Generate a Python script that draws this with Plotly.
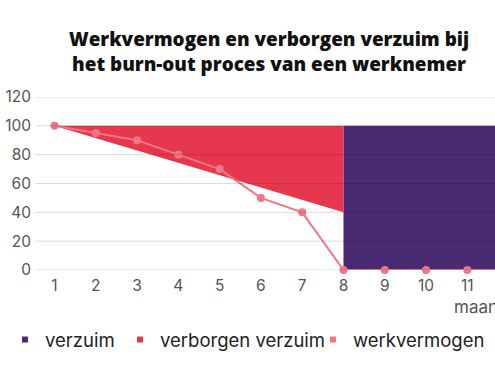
import plotly.graph_objects as go

# ---- data ----
months = [1, 2, 3, 4, 5, 6, 7, 8, 9, 10, 11, 12]
werkvermogen = [100, 95, 90, 80, 70, 50, 40, 0, 0, 0, 0, 0]

verborgen_x = [1, 8]
verborgen_bottom = [100, 40]
verborgen_top = [100, 100]

verzuim_x = [8, 12]
verzuim_y = [100, 100]

y_ticks = [0, 20, 40, 60, 80, 100, 120]
x_ticks = [1, 2, 3, 4, 5, 6, 7, 8, 9, 10, 11]

title_line1 = "Werkvermogen en verborgen verzuim bij"
title_line2 = "het burn-out proces van een werknemer"
x_title = "maand"

PURPLE = "#4b2a74"
RED = "#e5384f"
PINK = "#ee7685"

fig = go.Figure()

fig.add_trace(go.Scatter(x=verzuim_x, y=verzuim_y, mode="lines", fill="tozeroy",
                         fillcolor=PURPLE, line=dict(width=0, color=PURPLE),
                         showlegend=False, hoverinfo="skip"))
fig.add_trace(go.Scatter(x=verborgen_x, y=verborgen_bottom, mode="lines",
                         line=dict(width=0, color=RED), showlegend=False, hoverinfo="skip"))
fig.add_trace(go.Scatter(x=verborgen_x, y=verborgen_top, mode="lines", fill="tonexty",
                         fillcolor=RED, line=dict(width=0, color=RED),
                         showlegend=False, hoverinfo="skip"))
fig.add_trace(go.Scatter(x=months, y=werkvermogen, mode="lines+markers",
                         line=dict(color=PINK, width=2),
                         marker=dict(color=PINK, size=8),
                         cliponaxis=False, showlegend=False, name="werkvermogen"))

legend_font = dict(family="Inter", size=18.5, color="#222222")
for name, color, lg in [("verzuim", PURPLE, "legend"),
                        ("verborgen verzuim", RED, "legend2"),
                        ("werkvermogen", PINK, "legend3")]:
    fig.add_trace(go.Scatter(x=[None], y=[None], mode="markers", name=name,
                             marker=dict(symbol="square", size=6, color=color),
                             showlegend=True, legend=lg))

for yv in y_ticks:
    fig.add_shape(type="line", xref="paper", x0=0, x1=1, yref="y", y0=yv, y1=yv,
                  line=dict(color="rgba(0,0,0,0.14)", width=1), layer="above")

PL, PT, PB = 35, 97, 270
H = 375
ph = PB - PT

def py(pix):
    return (PB - pix) / ph

def px(pix):
    return (pix - PL) / (495 - PL)

title_font = dict(family="Open Sans", size=18.9, color="#111111", weight=800)
fig.add_annotation(text=title_line1 + "<br>" + title_line2, xref="paper", yref="paper",
                   x=px(268.5), y=py(51), xanchor="center", yanchor="middle",
                   align="center", showarrow=False, font=title_font)
fig.add_annotation(text=x_title, xref="paper", yref="paper",
                   x=px(452), y=py(307), xanchor="left", yanchor="middle",
                   showarrow=False, font=dict(family="Inter", size=17, color="#555555"))

legend_common = dict(orientation="h", yanchor="middle", xanchor="left",
                     font=legend_font, bgcolor="rgba(0,0,0,0)", itemwidth=30)

tick_font = dict(family="Inter", size=15.5, color="#555555")
fig.update_layout(
    width=495, height=H,
    margin=dict(l=PL, r=0, t=PT, b=H - PB, pad=0),
    paper_bgcolor="white", plot_bgcolor="white",
    xaxis=dict(range=[0.528, 11.67], tickmode="array", tickvals=x_ticks,
               showgrid=False, zeroline=False, showline=False, ticks="",
               ticklabelstandoff=4, tickfont=tick_font),
    yaxis=dict(range=[0, 120], tickmode="array", tickvals=y_ticks,
               showgrid=False, zeroline=False, showline=False, ticks="",
               ticklabelstandoff=3, tickfont=tick_font),
    legend=dict(x=px(5), y=py(340), **legend_common),
    legend2=dict(x=px(120), y=py(340), **legend_common),
    legend3=dict(x=px(313), y=py(340), **legend_common),
    showlegend=True,
)

fig.write_html("out.html")
